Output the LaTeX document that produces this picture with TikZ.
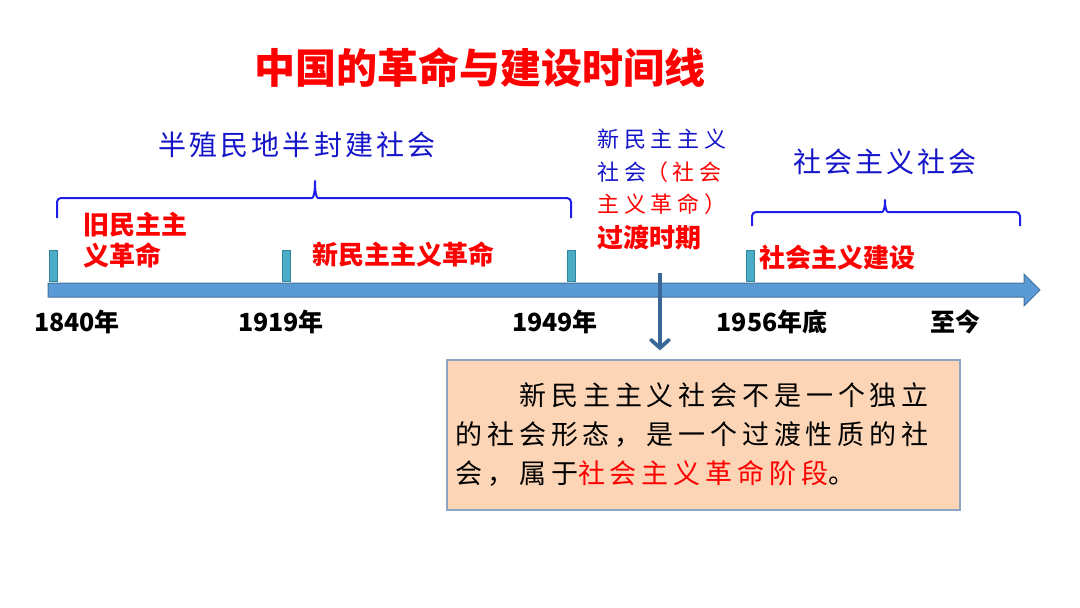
\documentclass[tikz,border=0pt]{standalone}
\usepackage{fontspec}
\setmainfont{Noto Sans CJK SC}
\usetikzlibrary{arrows.meta}
\definecolor{eraBlue}{HTML}{1414C8}
\definecolor{brcBlue}{HTML}{1E1EE6}
\definecolor{barFill}{HTML}{5B9BD5}
\definecolor{barLine}{HTML}{41719C}
\definecolor{downBlue}{HTML}{3B6798}
\definecolor{tickFill}{HTML}{4BACC6}
\definecolor{tickLine}{HTML}{31859C}
\definecolor{boxFill}{HTML}{FBD5B5}
\definecolor{boxLine}{HTML}{8EA4C2}
\tikzset{
  ttl/.style={font=\fontsize{41}{44}\selectfont\bfseries, text=red, inner sep=0pt},
  era/.style={font=\fontsize{28}{30}\selectfont\addfontfeature{LetterSpace=11}, text=eraBlue, inner sep=0pt},
  stage/.style={font=\fontsize{26}{31}\selectfont\bfseries, text=red, inner sep=0pt, align=left, anchor=west},
  note/.style={font=\fontsize{22}{32.5}\selectfont\addfontfeature{LetterSpace=22}, text=eraBlue, inner sep=0pt, align=left, anchor=west},
  yr/.style={font=\fontsize{25}{28}\selectfont\bfseries, inner sep=0pt},
  tickbar/.style={draw=tickLine, fill=tickFill, line width=0.8pt, minimum width=8pt, minimum height=31pt, inner sep=0pt, anchor=south},
  brc/.style={draw=brcBlue, line width=2pt, rounded corners=4pt},
  bar/.style={draw=barLine, fill=barFill, line width=1pt},
  down/.style={draw=downBlue, line width=3.8pt, -{Straight Barb[length=8pt, width=18pt, line cap=round]}},
  infobox/.style={draw=boxLine, fill=boxFill, line width=1.2pt, minimum width=513pt, minimum height=150pt,
    text width=496pt, align=left, inner sep=0pt,
    font=\fontsize{27}{39}\selectfont\addfontfeature{LetterSpace=18}},
}
\def\xA{53}
\def\xB{286}
\def\xC{571}
\def\xD{750}

\begin{document}
\begin{tikzpicture}[x=1pt, y=-1pt]
\useasboundingbox (0,0) rectangle (1080,608);

\node[ttl] (title) at (480,68) {中国的革命与建设时间线};

% eras
\node[era] (semi) at (297,145) {半殖民地半封建社会};
\node[era] (soc) at (885,162) {社会主义社会};
\node[note] (trans) at (597,172) {新民主主义\\社会\textcolor{red}{（社会}\\\textcolor{red}{主义革命）}};

\draw[brc] (57,218) -- (57,198) -- (308,198) .. controls (314,198) and (315,190) .. (315,178)
  .. controls (315,190) and (316,198) .. (322,198) -- (571,198) -- (571,218);
\draw[brc] (752,226) -- (752,212) -- (878,212) .. controls (884,212) and (885,206) .. (885,197)
  .. controls (885,206) and (886,212) .. (892,212) -- (1020,212) -- (1020,226);

% timeline
\draw[bar] (48,283) -- (1024,283) -- (1024,274) -- (1040,290) -- (1024,306) -- (1024,297) -- (48,297) -- cycle;
\foreach \x/\n in {\xA/t1,\xB/t2,\xC/t3,\xD/t4} \node[tickbar] (\n) at (\x,282) {};

% stages
\node[stage] (old) at (83,240) {旧民主主\\义革命};
\node[stage] (new) at (312,254) {新民主主义革命};
\node[stage] (gd) at (597,238) {过渡时期};
\node[stage] (build) at (759,258) {社会主义建设};

% years
\node[yr] (y1) at (77,322) {1840年};
\node[yr] (y2) at (281,322) {1919年};
\node[yr] (y3) at (555,322) {1949年};
\node[yr] (y4) at (772,322) {1956年底};
\node[yr] (y5) at (955,322) {至今};

% explanation
\node[infobox] (box) at (703.5,435) {\hspace*{64pt}新民主主义社会不是一个独立\\的社会形态，是一个过渡性质的社\\会，属于\textcolor{red}{社会主义革命阶段}。};
\coordinate (p) at (660,273);
\draw[down] (p) -- ([yshift=9pt]box.north -| p);

\end{tikzpicture}
\end{document}
